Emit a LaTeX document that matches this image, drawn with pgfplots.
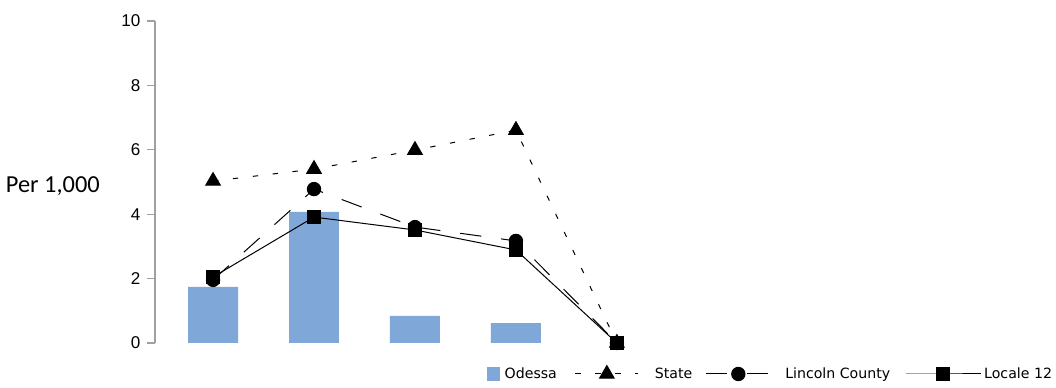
\documentclass[border=0pt]{standalone}
\usepackage{fontspec}
\setmainfont{DejaVu Sans}
\newfontfamily\cali{Carlito}
\newfontfamily\libs{Liberation Sans}
\usepackage{pgfplots}
\pgfplotsset{compat=1.18}
\definecolor{barblue}{RGB}{127,167,216}
\definecolor{axgray}{RGB}{160,160,160}
\pgfplotsset{
  stateleg/.style={legend image code/.code={\draw[mark repeat=2,mark phase=2,##1] plot coordinates {(0pt,0pt) (23.6pt,0pt) (47.25pt,0pt)};}},
  lincleg/.style={legend image code/.code={\draw[mark repeat=2,mark phase=2,##1] plot coordinates {(0pt,0pt) (24.4pt,0pt) (48.75pt,0pt)};}},
  locleg/.style={legend image code/.code={\draw[mark repeat=2,mark phase=2,##1] plot coordinates {(0pt,0pt) (28.1pt,0pt) (56.25pt,0pt)};}},
}

\begin{document}
\begin{tikzpicture}
\path[use as bounding box] (-116.25pt,-33.75pt) rectangle (675.75pt,257.25pt);
\begin{axis}[
  at={(0pt,0pt)}, anchor=south west,
  scale only axis, width=671.25pt, height=241.5pt,
  xmin=-0.575, xmax=8.29, ymin=0, ymax=10,
  clip=false,
  axis x line=none,
  axis y line*=left,
  y axis line style={axgray, line width=0.8pt},
  ytick={0,2,4,6,8,10},
  tick align=outside,
  major tick length=6pt,
  tick style={axgray, line width=0.8pt},
  yticklabel style={font=\libs\fontsize{12.8}{14}\selectfont, text=black, xshift=-1.5pt},
  /pgf/number format/assume math mode=true,
  legend columns=4,
  legend style={draw=none, fill=none, at={(1,0)}, anchor=east, xshift=1.5pt, yshift=-23.25pt,
    inner sep=0pt, outer sep=0pt, font=\fontsize{10.6}{12}\selectfont,
    nodes={inner xsep=0pt},
    /tikz/column 1/.style={column sep=3.75pt},
    /tikz/column 2/.style={column sep=13.5pt},
    /tikz/column 3/.style={column sep=12pt},
    /tikz/column 4/.style={column sep=9.75pt},
    /tikz/column 5/.style={column sep=10.5pt},
    /tikz/column 6/.style={column sep=11.25pt},
    /tikz/column 7/.style={column sep=2.25pt}},
]
\addplot[ybar, bar width=0.495, fill=barblue, draw=none,
  legend image code/.code={\fill[barblue] (0pt,-4.9pt) rectangle (9.75pt,4.9pt);}]
  coordinates {(0,1.74) (1,4.07) (2,0.84) (3,0.62)};
\addlegendentry{Odessa}
\addplot[black, line width=0.75pt, dash pattern=on 4pt off 11pt, mark=triangle*, mark size=6.3pt, mark options={solid}, stateleg]
  coordinates {(0,5.03) (1,5.4) (2,5.99) (3,6.61) (4,0)};
\addlegendentry{State}
\addplot[black, line width=0.75pt, dash pattern=on 16pt off 15pt, mark=*, mark size=5pt, mark options={solid}, lincleg]
  coordinates {(0,1.96) (1,4.78) (2,3.6) (3,3.17) (4,0)};
\addlegendentry{Lincoln County}
\addplot[black, line width=0.75pt, mark=square*, mark size=4.8pt, mark options={solid}, locleg]
  coordinates {(0,2.05) (1,3.91) (2,3.51) (3,2.89) (4,0)};
\addlegendentry{Locale 12}
\node[anchor=east, font=\cali\fontsize{18.3}{20}\selectfont, inner sep=0pt] at (rel axis cs:0,0.4876) [xshift=-41.25pt] {Per 1,000};
\end{axis}
\end{tikzpicture}
\end{document}
